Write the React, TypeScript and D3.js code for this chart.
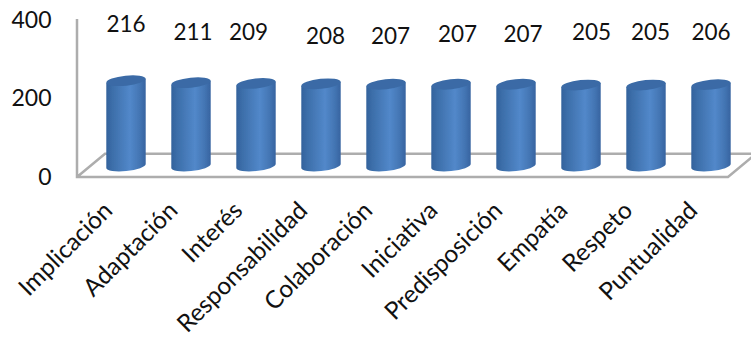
import React from "react";
import * as d3 from "d3";

const categories = ["Implicación","Adaptación","Interés","Responsabilidad","Colaboración","Iniciativa","Predisposición","Empatía","Respeto","Puntualidad"];
const values = [216,211,209,208,207,207,207,205,205,206];
const axisTicks = [0,200,400];
// hand-placed label layout of the original chart (baseline y, x nudge)
const labelBaselines = [32,40,40,44,44,42,42,40,40,40];
const labelNudges = [0,2,-7.5,4.5,4.5,6.5,7,10.5,4.5,0];

const W = 751, H = 338;
const FONT = "Lato, 'Open Sans', sans-serif";

export default function App() {
  const tickY = d3.scaleLinear().domain([0,400]).range([177,20]);
  const barY = d3.scaleLinear().domain([0,400]).range([166,8]);
  const x = d3.scaleBand<string>().domain(categories).range([93.5,743.5]).paddingInner(0.4).paddingOuter(0.2);
  const bw = x.bandwidth();
  const rx = 19.7, ry = 5, tilt = -6;
  return (
    <svg width={W} height={H} style={{position:"absolute",left:0,top:0,background:"#fff"}} fontFamily={FONT}>
      <defs>
        <linearGradient id="cyl" x1="0" x2="1" y1="0" y2="0">
          <stop offset="0" stopColor="#33629c"/>
          <stop offset="0.15" stopColor="#3c6ea9"/>
          <stop offset="0.6" stopColor="#5288ca"/>
          <stop offset="0.85" stopColor="#4375b3"/>
          <stop offset="1" stopColor="#3763a0"/>
        </linearGradient>
        <filter id="soft" x="-10%" y="-10%" width="120%" height="120%">
          <feGaussianBlur stdDeviation="0.7"/>
        </filter>
      </defs>
      <g fill="none" stroke="#adadad" strokeWidth={2.5}>
        <path d="M77 19V177H728L756 153.7H105L77 177"/>
      </g>
      {axisTicks.map(t => (
        <text key={t} x={51.5} y={tickY(t)+7.5} textAnchor="end" fontSize={23} fill="#111">{t}</text>
      ))}
      <g filter="url(#soft)">
      {categories.map((c,i) => {
        const cx = x(c)! + bw/2;
        const top = barY(values[i]);
        const bottom = barY(0);
        const dy = 2;
        return (
          <g key={c}>
            <path fill="url(#cyl)" d={`M${cx-rx} ${top+dy}L${cx-rx} ${bottom+dy}A${rx} ${ry} ${tilt} 0 0 ${cx+rx} ${bottom-dy}L${cx+rx} ${top-dy}Z`}/>
            <ellipse cx={cx} cy={top} rx={rx} ry={ry} transform={`rotate(${tilt} ${cx} ${top})`} fill="#3a6ba6"/>
          </g>
        );
      })}
      </g>
      {categories.map((c,i) => (
        <text key={c} x={x(c)!+bw/2+labelNudges[i]} y={labelBaselines[i]} textAnchor="middle" fontSize={22.5} fill="#111">{values[i]}</text>
      ))}
      {categories.map(c => {
        const ax = x(c)!+bw/2-12;
        return (
          <text key={c} transform={`translate(${ax} 212) rotate(-45)`} textAnchor="end" fontSize={24.4} fill="#111">{c}</text>
        );
      })}
    </svg>
  );
}
